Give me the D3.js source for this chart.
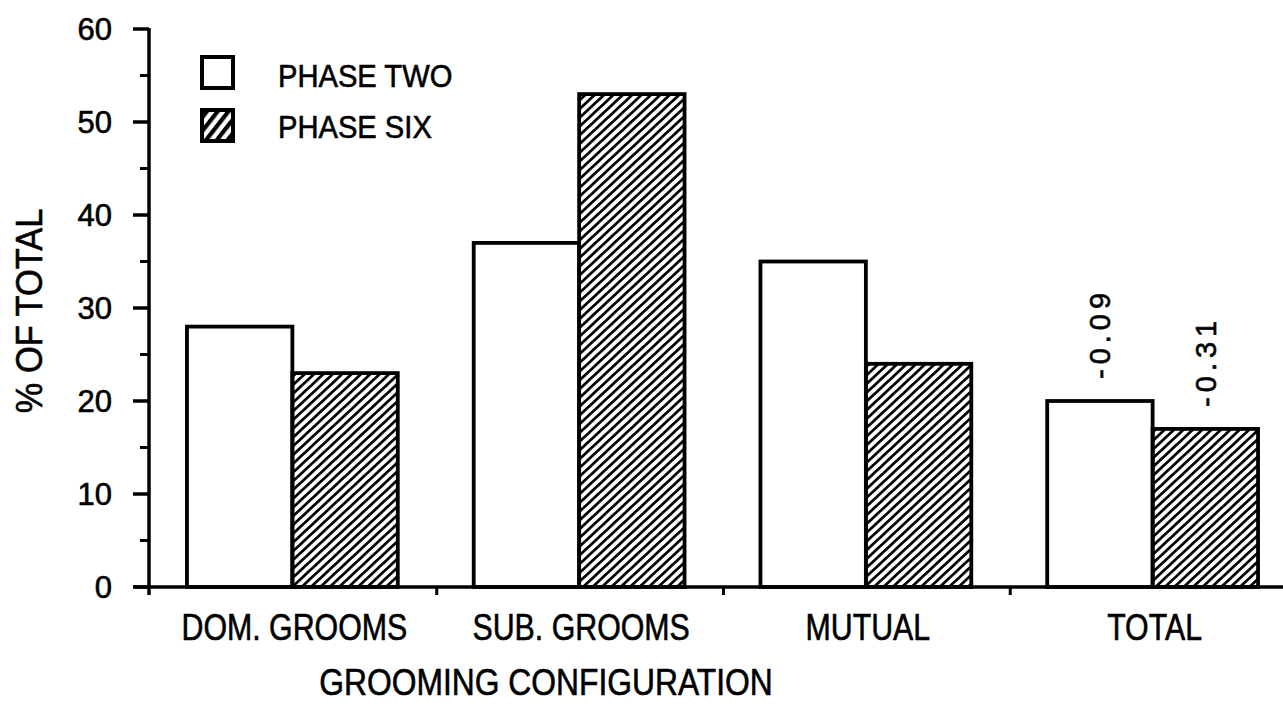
<!DOCTYPE html>
<html>
<head>
<meta charset="utf-8">
<script src="https://cdn.jsdelivr.net/npm/d3@7"></script>
<style>
  body { margin: 0; background: #fff; }
  text { font-family: "Liberation Sans", Arial, sans-serif; fill: #000; stroke: #000; stroke-width: 0.6; }
</style>
</head>
<body>
<script>
var categories = ["DOM. GROOMS", "SUB. GROOMS", "MUTUAL", "TOTAL"];
var series = ["PHASE TWO", "PHASE SIX"];
var phaseTwo = [28, 37, 35, 20];
var phaseSix = [23, 53, 24, 17];
var barNotes = [[3, 0, "-0.09"], [3, 1, "-0.31"]];
var yTicks = [0, 10, 20, 30, 40, 50, 60];
var yMinor = [5, 15, 25, 35, 45, 55];

var width = 1283, height = 704;
var svg = d3.select("body").append("svg")
  .attr("width", width)
  .attr("height", height);

var defs = svg.append("defs");
defs.append("pattern")
  .attr("id", "hatch")
  .attr("patternUnits", "userSpaceOnUse")
  .attr("width", 8).attr("height", 6.4)
  .attr("patternTransform", "rotate(-43)")
  .append("rect")
  .attr("x", 0).attr("y", 0)
  .attr("width", 8).attr("height", 2.7)
  .attr("fill", "#000");
defs.append("pattern")
  .attr("id", "hatchBig")
  .attr("patternUnits", "userSpaceOnUse")
  .attr("width", 10).attr("height", 8.5)
  .attr("patternTransform", "rotate(-52)")
  .append("rect")
  .attr("x", 0).attr("y", 0)
  .attr("width", 10).attr("height", 4.2)
  .attr("fill", "#000");

var x0 = 149, x1 = 1296, y0 = 587, y1 = 29;

var x = d3.scaleBand()
  .domain(categories)
  .range([x0, x1])
  .paddingInner(0)
  .paddingOuter(0);

var xs = d3.scaleBand()
  .domain(series)
  .range([0, x.bandwidth()])
  .paddingOuter(0.36)
  .paddingInner(0);

var y = d3.scaleLinear().domain([0, 60]).range([y0, y1]);

var rows = [];
categories.forEach(function(c, i) {
  rows.push({cat: c, s: series[0], v: phaseTwo[i]});
  rows.push({cat: c, s: series[1], v: phaseSix[i]});
});

// bars
svg.selectAll("rect.bar")
  .data(rows)
  .enter()
  .append("rect")
  .attr("class", "bar")
  .attr("x", function(d) { return x(d.cat) + xs(d.s); })
  .attr("y", function(d) { return y(d.v); })
  .attr("width", xs.bandwidth())
  .attr("height", function(d) { return y0 - y(d.v); })
  .attr("fill", function(d) { return d.s === series[0] ? "#fff" : "url(#hatch)"; })
  .attr("stroke", "#000")
  .attr("stroke-width", 3.8);

// notes above total bars
svg.selectAll("text.note")
  .data(barNotes)
  .enter()
  .append("text")
  .attr("class", "note")
  .attr("transform", function(d) {
    var cat = categories[d[0]], s = series[d[1]];
    var v = d[1] === 0 ? phaseTwo[d[0]] : phaseSix[d[0]];
    var cx = x(cat) + xs(s) + xs.bandwidth() / 2 + 10.5;
    return "translate(" + cx + "," + (y(v) - 22) + ") rotate(-90)";
  })
  .attr("font-size", 29)
  .attr("letter-spacing", 5)
  .text(function(d) { return d[2]; });

// y axis
var yAxis = svg.append("g");
yAxis.append("line")
  .attr("x1", x0).attr("x2", x0)
  .attr("y1", y1 - 1).attr("y2", y0 + 8)
  .attr("stroke", "#000").attr("stroke-width", 3.5);
yAxis.selectAll("line.major")
  .data(yTicks)
  .enter()
  .append("line")
  .attr("x1", x0 - 16).attr("x2", x0)
  .attr("y1", function(d) { return y(d); })
  .attr("y2", function(d) { return y(d); })
  .attr("stroke", "#000").attr("stroke-width", 3.5);
yAxis.selectAll("line.minor")
  .data(yMinor)
  .enter()
  .append("line")
  .attr("x1", x0 - 9).attr("x2", x0)
  .attr("y1", function(d) { return y(d); })
  .attr("y2", function(d) { return y(d); })
  .attr("stroke", "#000").attr("stroke-width", 3);
yAxis.selectAll("text")
  .data(yTicks)
  .enter()
  .append("text")
  .attr("x", x0 - 37)
  .attr("y", function(d) { return y(d) + 11; })
  .attr("text-anchor", "end")
  .attr("font-size", 31)
  .text(function(d) { return d; });

// x axis
var xAxis = svg.append("g");
xAxis.append("line")
  .attr("x1", x0 - 16).attr("x2", width)
  .attr("y1", y0).attr("y2", y0)
  .attr("stroke", "#000").attr("stroke-width", 3.5);
xAxis.selectAll("line.tick")
  .data(categories.slice(1))
  .enter()
  .append("line")
  .attr("x1", function(d) { return x(d) + 1; })
  .attr("x2", function(d) { return x(d) + 1; })
  .attr("y1", y0).attr("y2", y0 + 8)
  .attr("stroke", "#000").attr("stroke-width", 3);
xAxis.selectAll("text")
  .data(categories)
  .enter()
  .append("text")
  .attr("transform", function(d) {
    return "translate(" + (x(d) + x.bandwidth() / 2 + 2) + ",640) scale(0.82,1)";
  })
  .attr("text-anchor", "middle")
  .attr("font-size", 37)
  .text(function(d) { return d; });

svg.append("text")
  .attr("transform", "translate(546,695) scale(0.86,1)")
  .attr("text-anchor", "middle")
  .attr("font-size", 37)
  .text("GROOMING CONFIGURATION");

svg.append("text")
  .attr("transform", "translate(42,311) rotate(-90) scale(0.93,1)")
  .attr("text-anchor", "middle")
  .attr("font-size", 37)
  .text("% OF TOTAL");

// legend
var legend = svg.append("g");
legend.selectAll("rect")
  .data(series)
  .enter()
  .append("rect")
  .attr("x", 202)
  .attr("y", function(d, i) { return 57 + i * 53; })
  .attr("width", 31).attr("height", 31)
  .attr("fill", function(d, i) { return i === 0 ? "#fff" : "url(#hatchBig)"; })
  .attr("stroke", "#000")
  .attr("stroke-width", 4);
legend.selectAll("text")
  .data(series)
  .enter()
  .append("text")
  .attr("transform", function(d, i) { return "translate(278," + (87 + i * 51) + ") scale(0.94,1)"; })
  .attr("font-size", 31)
  .text(function(d) { return d; });
</script>
</body>
</html>
